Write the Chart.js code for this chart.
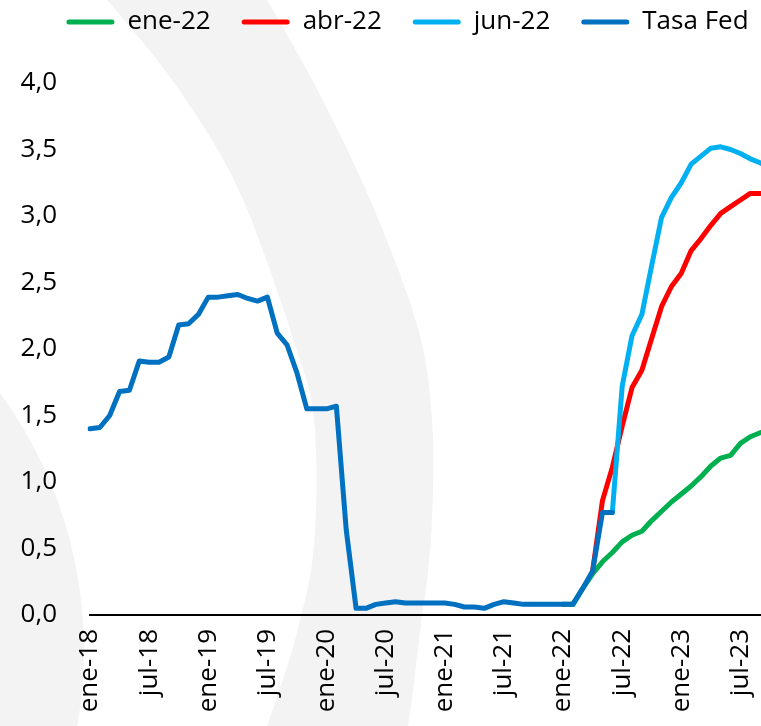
<!DOCTYPE html>
<html>
<head>
<meta charset="utf-8">
<title>Tasa Fed</title>
<script src="https://cdn.jsdelivr.net/npm/chart.js@4.4.1/dist/chart.umd.min.js"></script>
<style>
  html, body { margin: 0; padding: 0; overflow: hidden; background: #fff; }
  body { width: 761px; height: 726px; }
  #wrap { position: relative; width: 801px; height: 726px; }
</style>
</head>
<body>
<div id="wrap"><canvas id="chart"></canvas></div>
<script>
// monthly categories, ene-18 .. oct-23
const months = ['ene', 'feb', 'mar', 'abr', 'may', 'jun', 'jul', 'ago', 'sep', 'oct', 'nov', 'dic'];
const years = ['18', '19', '20', '21', '22', '23'];
const nMonths = 70;

// effective fed funds rate, ene-18 .. jun-22
const tasaFed = [
  1.40, 1.41, 1.50, 1.68, 1.69, 1.91, 1.90, 1.90, 1.94, 2.18, 2.19, 2.26,
  2.39, 2.39, 2.40, 2.41, 2.38, 2.36, 2.39, 2.12, 2.03, 1.82, 1.55, 1.55,
  1.55, 1.57, 0.64, 0.05, 0.05, 0.08, 0.09, 0.10, 0.09, 0.09, 0.09, 0.09,
  0.09, 0.08, 0.06, 0.06, 0.05, 0.08, 0.10, 0.09, 0.08, 0.08, 0.08, 0.08,
  0.08, 0.08, 0.20, 0.33, 0.77, 0.77,
];

// market expected paths, each starts at the month of its name
const ene22 = [0.08, 0.08, 0.20, 0.31, 0.40, 0.47, 0.55, 0.60, 0.63, 0.71, 0.78, 0.85,
  0.91, 0.97, 1.04, 1.12, 1.18, 1.20, 1.29, 1.34, 1.37, 1.40];
const abr22 = [0.33, 0.86, 1.11, 1.42, 1.71, 1.84, 2.08, 2.32, 2.47,
  2.57, 2.74, 2.83, 2.93, 3.02, 3.07, 3.12, 3.17, 3.17, 3.17];
const jun22 = [0.77, 1.72, 2.10, 2.26, 2.63, 2.99, 3.14,
  3.25, 3.39, 3.45, 3.51, 3.52, 3.50, 3.47, 3.43, 3.40, 3.36];

const yTicks = { min: 0, max: 4, step: 0.5 };

const labels = [];
years.forEach((y) => months.forEach((m) => labels.push(m + '-' + y)));
labels.length = nMonths;

const pad = (arr, start) => labels.map((_, i) => (i >= start && i - start < arr.length ? arr[i - start] : null));

const colors = { ene: '#00b050', abr: '#ff0000', jun: '#00b0f0', fed: '#0070c0' };

const line = (label, data, color, order) => ({
  label,
  data,
  borderColor: color,
  backgroundColor: color,
  borderWidth: 5,
  pointRadius: 0,
  tension: 0,
  borderJoinStyle: 'round',
  borderCapStyle: 'round',
  order,
});

// pale arc watermark behind the plot
const ringOuter = [[267, 0], [302, 60], [333, 120], [362, 180], [387, 240], [410, 300], [427, 360],
  [434, 440], [433, 500], [430, 560], [420, 630], [413, 693], [408, 726]];
const ringInner = [[107, 0], [150, 50], [187, 100], [235, 177], [270, 268], [300, 360], [313, 400],
  [317, 460], [316, 520], [312, 570], [302, 613], [290, 660], [267, 726]];

function smoothPath(ctx, pts, first) {
  if (first) ctx.moveTo(pts[0][0], pts[0][1]);
  else ctx.lineTo(pts[0][0], pts[0][1]);
  for (let i = 1; i < pts.length - 1; i++) {
    const mx = (pts[i][0] + pts[i + 1][0]) / 2;
    const my = (pts[i][1] + pts[i + 1][1]) / 2;
    ctx.quadraticCurveTo(pts[i][0], pts[i][1], mx, my);
  }
  const last = pts[pts.length - 1];
  ctx.lineTo(last[0], last[1]);
}

const watermark = {
  id: 'watermark',
  beforeDraw(chart) {
    const ctx = chart.ctx;
    ctx.save();
    ctx.fillStyle = '#f3f3f3';
    ctx.beginPath();
    smoothPath(ctx, ringOuter, true);
    smoothPath(ctx, ringInner.slice().reverse(), false);
    ctx.closePath();
    ctx.fill();
    ctx.beginPath();
    ctx.arc(-351, 650, 435, 0, Math.PI * 2);
    ctx.fill();
    ctx.restore();
  },
};

const legendSpacer = {
  id: 'legendSpacer',
  beforeInit(chart) {
    const fit = chart.legend.fit;
    chart.legend.fit = function () {
      fit.call(this);
      this.height += 38;
    };
  },
};

Chart.defaults.font.family = "'Open Sans', sans-serif";
Chart.defaults.color = '#000';

new Chart(document.getElementById('chart').getContext('2d'), {
  type: 'line',
  data: {
    labels,
    datasets: [
      line('ene-22', pad(ene22, 48), colors.ene, 3),
      line('abr-22', pad(abr22, 51), colors.abr, 2),
      line('jun-22', pad(jun22, 53), colors.jun, 1),
      line('Tasa Fed', pad(tasaFed, 0), colors.fed, 0),
    ],
  },
  options: {
    responsive: true,
    maintainAspectRatio: false,
    animation: false,
    layout: { padding: { top: -22, left: 20, right: 6, bottom: 0 } },
    plugins: {
      tooltip: { enabled: false },
      legend: {
        position: 'top',
        labels: {
          font: { size: 26 },
          color: '#000',
          boxWidth: 48,
          boxHeight: 5,
          padding: 31,
          useBorderRadius: true,
          borderRadius: 2.5,
          sort: (a, b) => a.datasetIndex - b.datasetIndex,
          generateLabels: (chart) =>
            Chart.defaults.plugins.legend.labels.generateLabels(chart).map((l) => ({ ...l, lineWidth: 0 })),
        },
      },
    },
    scales: {
      x: {
        grid: { display: false, drawTicks: false },
        border: { display: true, color: '#000', width: 2 },
        ticks: {
          autoSkip: false,
          maxRotation: 90,
          minRotation: 90,
          padding: 14,
          font: { size: 26 },
          callback: (v, i) => (i % 6 === 0 ? labels[i] : ''),
        },
        afterFit: (s) => {
          s.height = 111;
          s.paddingLeft = 0;
          s.paddingRight = 31;
        },
      },
      y: {
        min: yTicks.min,
        max: yTicks.max,
        grid: { display: false, drawTicks: false },
        border: { display: false },
        ticks: {
          stepSize: yTicks.step,
          padding: 33,
          font: { size: 26 },
          callback: (v) => v.toFixed(1).replace('.', ','),
        },
        afterFit: (s) => {
          s.width = 70;
        },
      },
    },
  },
  plugins: [watermark, legendSpacer],
});
</script>
</body>
</html>
